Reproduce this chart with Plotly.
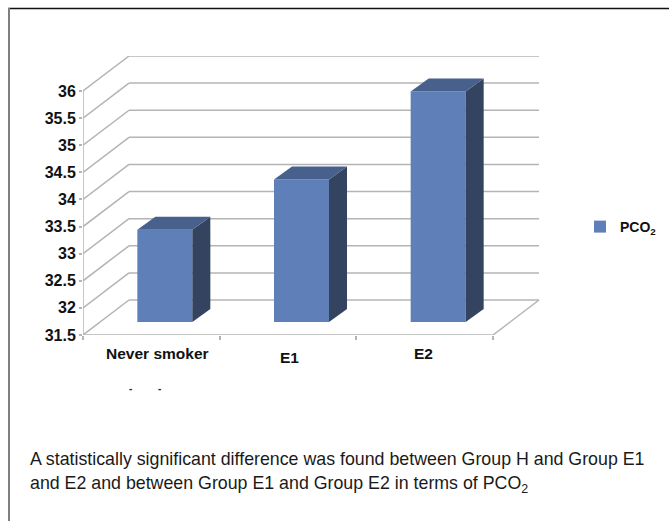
import plotly.graph_objects as go

# Chart data
categories = ["Never smoker", "E1", "E2"]
pco2_values = [33.2, 34.13, 35.75]
y_ticks = [31.5, 32, 32.5, 33, 33.5, 34, 34.5, 35, 35.5, 36]
series_name = "PCO<sub>2</sub>"
caption_lines = [
    "A statistically significant difference was found between Group H and Group E1",
    "and E2 and between Group E1 and Group E2 in terms of PCO<sub>2</sub>",
]

# Figure and plot-area geometry, in pixels
WIDTH, HEIGHT = 669, 521
LEFT, RIGHT, TOP, BOTTOM = 83, 541, 56, 335
PX_PER_CATEGORY = 136.67
PX_PER_UNIT = 54.22

FLOOR = y_ticks[0]
X_START = -0.5
X_END = X_START + len(categories)

# Oblique projection: how far the back wall and the bars' depth shift x and y
WALL_DX = 46 / PX_PER_CATEGORY
WALL_DY = 35 / PX_PER_UNIT
BAR_DX = 18 / PX_PER_CATEGORY
BAR_DY = 13 / PX_PER_UNIT
BAR_SHIFT = 13.5 / PX_PER_CATEGORY
BAR_WIDTH = 55 / PX_PER_CATEGORY

FRONT_COLOR = "#5f7fb9"
SIDE_COLOR = "#344360"
TOP_COLOR = "#47618c"
GRID_COLOR = "#b4b4b4"
FONT = "Liberation Sans"


def paper_x(px):
    return (px - LEFT) / (RIGHT - LEFT)


def paper_y(px):
    return (BOTTOM - px) / (BOTTOM - TOP)


def data_line(x0, y0, x1, y1):
    return dict(type="line", xref="x", yref="y", x0=x0, y0=y0, x1=x1, y1=y1,
                layer="below", line=dict(color=GRID_COLOR, width=1.5))


fig = go.Figure()

# Front faces of the bars, standing on the raised floor plane
centers = [i + BAR_SHIFT for i in range(len(categories))]
fig.add_trace(go.Bar(
    x=centers,
    y=[v - FLOOR for v in pco2_values],
    base=FLOOR + BAR_DY,
    width=BAR_WIDTH,
    name=series_name,
    marker=dict(color=FRONT_COLOR, line=dict(width=0)),
    hoverinfo="skip",
))

# Side and top faces of each bar
for c, v in zip(centers, pco2_values):
    left = c - BAR_WIDTH / 2
    right = c + BAR_WIDTH / 2
    top = v + BAR_DY
    base = FLOOR + BAR_DY
    fig.add_trace(go.Scatter(
        x=[right, right + BAR_DX, right + BAR_DX, right, right],
        y=[base, base + BAR_DY, top + BAR_DY, top, base],
        fill="toself", fillcolor=SIDE_COLOR, mode="lines",
        line=dict(width=0, color=SIDE_COLOR),
        showlegend=False, hoverinfo="skip",
    ))
    fig.add_trace(go.Scatter(
        x=[left, left + BAR_DX, right + BAR_DX, right, left],
        y=[top, top + BAR_DY, top + BAR_DY, top, top],
        fill="toself", fillcolor=TOP_COLOR, mode="lines",
        line=dict(width=0, color=TOP_COLOR),
        showlegend=False, hoverinfo="skip",
    ))

# Wall gridlines: a diagonal on the side wall, then across the back wall
shapes = []
for t in y_ticks:
    shapes.append(data_line(X_START, t, X_START + WALL_DX, t + WALL_DY))
    shapes.append(data_line(X_START + WALL_DX, t + WALL_DY, X_END + WALL_DX, t + WALL_DY))
shapes.append(data_line(X_START, FLOOR, X_START, y_ticks[-1]))
shapes.append(data_line(X_START, FLOOR, X_END, FLOOR))
shapes.append(data_line(X_END, FLOOR, X_END + WALL_DX, FLOOR + WALL_DY))

# Outer frame
shapes.append(dict(type="line", xref="paper", yref="paper",
                   x0=paper_x(8), x1=paper_x(WIDTH), y0=paper_y(8.5), y1=paper_y(8.5),
                   line=dict(color="#111111", width=1.5)))
shapes.append(dict(type="line", xref="paper", yref="paper",
                   x0=paper_x(9), x1=paper_x(9), y0=paper_y(8), y1=paper_y(HEIGHT),
                   line=dict(color="#7f7f7f", width=2)))

annotations = []

# Category labels
label_offsets = [(6, 18), (1, 22.5), (-1, 18)]
for i, (name, (dx, dy)) in enumerate(zip(categories, label_offsets)):
    annotations.append(dict(x=i, y=FLOOR, xref="x", yref="y", text=f"<b>{name}</b>",
                            showarrow=False, xshift=dx, yshift=-dy, yanchor="middle",
                            xanchor="center", font=dict(family=FONT, size=15.5, color="#111111")))

# Two stray marks under the category labels
for px in (130, 159):
    annotations.append(dict(x=paper_x(px), y=paper_y(388), xref="paper", yref="paper",
                            text="<b>-</b>", showarrow=False, xanchor="center", yanchor="middle",
                            font=dict(family=FONT, size=10, color="#222222")))

# Caption below the chart
for line, py in zip(caption_lines, (459, 484)):
    annotations.append(dict(x=paper_x(27.5), y=paper_y(py), xref="paper", yref="paper",
                            text=line, showarrow=False, xanchor="left", yanchor="middle",
                            align="left", font=dict(family=FONT, size=17.8, color="#1a1a1a")))

fig.update_layout(
    width=WIDTH, height=HEIGHT,
    margin=dict(l=LEFT, r=WIDTH - RIGHT, t=TOP, b=HEIGHT - BOTTOM, autoexpand=False),
    paper_bgcolor="white", plot_bgcolor="white",
    shapes=shapes, annotations=annotations,
    legend=dict(x=paper_x(580), y=paper_y(227), xanchor="left", yanchor="middle",
                bgcolor="rgba(0,0,0,0)", borderwidth=0, itemwidth=30,
                font=dict(family=FONT, size=14, color="#111111", weight="bold")),
    xaxis=dict(range=[X_START, X_START + (RIGHT - LEFT) / PX_PER_CATEGORY],
               tickvals=[X_START + i for i in range(len(categories) + 1)],
               showticklabels=False, ticks="outside", ticklen=4, tickwidth=1.5,
               tickcolor=GRID_COLOR, showgrid=False, zeroline=False, showline=False),
    yaxis=dict(range=[FLOOR, FLOOR + (BOTTOM - TOP) / PX_PER_UNIT],
               tickvals=y_ticks, ticks="outside", ticklen=3, tickwidth=1.5,
               tickcolor=GRID_COLOR, showgrid=False, zeroline=False, showline=False,
               tickfont=dict(family=FONT, size=16, color="#111111", weight="bold")),
    showlegend=True,
)

fig.write_html("out.html", config=dict(displayModeBar=False))
